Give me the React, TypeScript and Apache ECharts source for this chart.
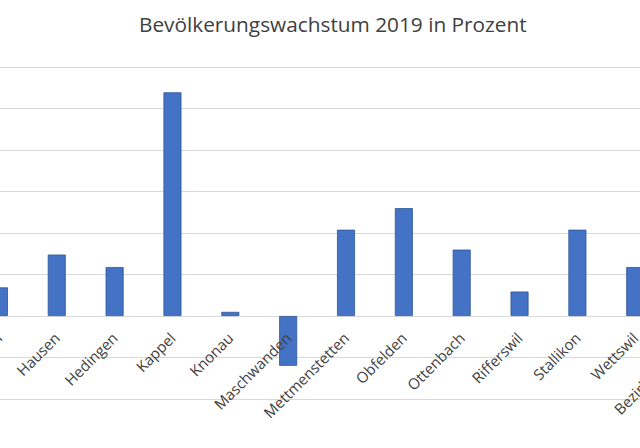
import { useEffect, useRef } from 'react'
import * as echarts from 'echarts'

// Gemeinden (sichtbarer Ausschnitt, links und rechts angeschnitten)
const gemeinden = [
  'Bonstetten',
  'Hausen',
  'Hedingen',
  'Kappel',
  'Knonau',
  'Maschwanden',
  'Mettmenstetten',
  'Obfelden',
  'Ottenbach',
  'Rifferswil',
  'Stallikon',
  'Wettswil',
  'Bezirk Affoltern',
]

// Wachstum in Prozent
const wachstum = [0.69, 1.48, 1.18, 5.39, 0.1, -1.2, 2.08, 2.6, 1.6, 0.59, 2.08, 1.18, 1.3]

const yMin = -2
const yMax = 6
const yStep = 1

export default function App() {
  const containerRef = useRef<HTMLDivElement>(null)

  useEffect(() => {
    if (!containerRef.current) return
    const chart = echarts.init(containerRef.current, undefined, { renderer: 'svg' })

    const option: any = {
      animation: false,
      backgroundColor: '#ffffff',
      title: {
        text: 'Bevölkerungswachstum 2019 in Prozent',
        left: 134,
        top: 8,
        textStyle: {
          color: '#404040',
          fontSize: 20.8,
          fontWeight: 'normal',
          fontFamily: 'Open Sans',
        },
      },
      // Diagramm ist im Original links/rechts abgeschnitten
      grid: {
        left: -30,
        right: -82,
        top: 67,
        bottom: 49,
        containLabel: false,
        outerBoundsMode: 'none',
      },
      xAxis: {
        type: 'category',
        data: gemeinden,
        z: 5, // Beschriftung über den Balken
        // Beschriftung direkt an der Nulllinie (wie in Excel)
        offset: -83,
        axisLine: { show: false, onZero: false },
        axisTick: { show: false },
        axisLabel: {
          rotate: 45,
          margin: 19,
          interval: 0,
          color: '#404040',
          fontSize: 15,
          fontFamily: 'Open Sans',
        },
      },
      yAxis: {
        type: 'value',
        min: yMin,
        max: yMax,
        interval: yStep,
        axisLabel: { show: false },
        axisLine: { show: false },
        axisTick: { show: false },
        splitLine: { lineStyle: { color: '#d9d9d9', width: 1.2 } },
      },
      series: [
        {
          type: 'bar',
          data: wachstum,
          barWidth: 18,
          itemStyle: { color: '#4472c4', borderColor: '#2f5597', borderWidth: 0.8 },
        },
      ],
    }

    chart.setOption(option)
    return () => chart.dispose()
  }, [])

  return (
    <div
      ref={containerRef}
      style={{ position: 'fixed', left: 0, top: 0, width: 640, height: 448 }}
    />
  )
}
